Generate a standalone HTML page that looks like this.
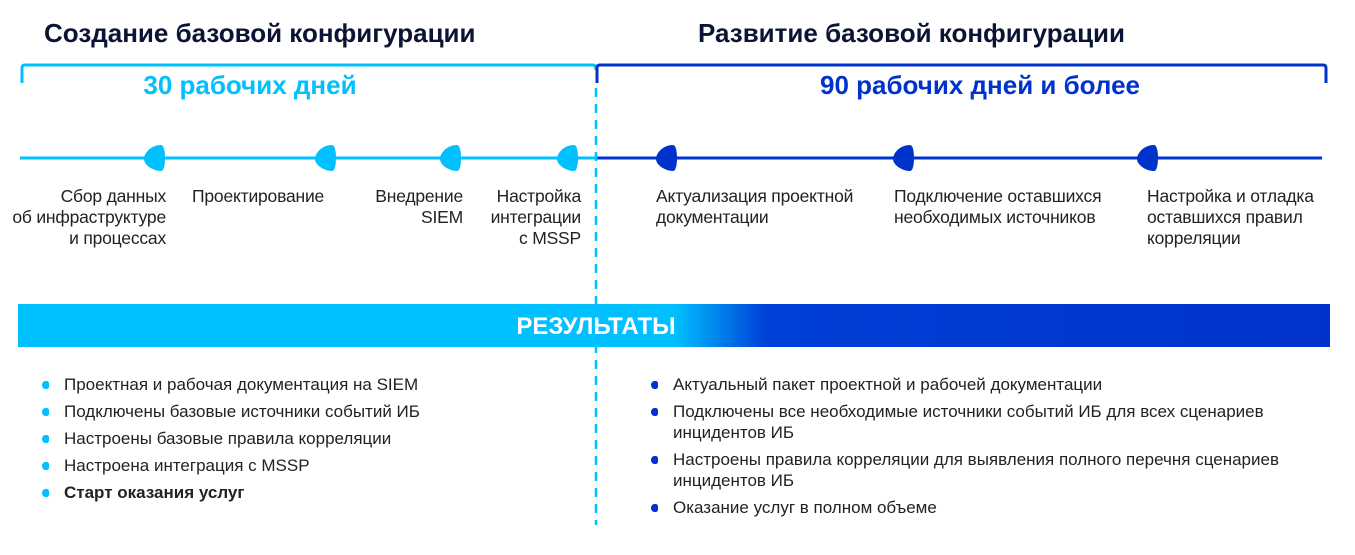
<!DOCTYPE html>
<html><head><meta charset="utf-8"><style>
body{margin:0;width:1355px;height:555px;background:#fff;position:relative;overflow:hidden;font-family:"Liberation Sans",sans-serif;color:#222}
.a{position:absolute;white-space:nowrap}
.h{font-weight:bold;font-size:26px;color:#0b1533;top:18px}
.s{font-weight:bold;font-size:26px;top:70px}
.l{font-size:17.5px;line-height:21px;top:186px;letter-spacing:-0.2px}
.r{text-align:right}
ul{position:absolute;margin:0;padding:0;list-style:none;font-size:17px;line-height:21px}
li{position:relative;padding-left:22px;margin-bottom:6px}
li:before{content:"";position:absolute;left:0;top:7px;width:7px;height:8px;border-radius:50% 30% 30% 50%}
.c li:before{background:#00c0ff}.b li:before{background:#0033cc}
</style></head><body>
<div class="a h" style="left:44px">Создание базовой конфигурации</div>
<div class="a h" style="left:698px">Развитие базовой конфигурации</div>
<svg class="a" style="left:0;top:0" width="1355" height="555">
<defs><linearGradient id="g" x1="18" x2="1330" gradientUnits="userSpaceOnUse">
<stop offset="0.5" stop-color="#00c0ff"/><stop offset="0.57" stop-color="#0040d8"/><stop offset="1" stop-color="#0033cc"/></linearGradient>
<path id="m" d="M4 -13 C-6 -13 -13 -5 -13 1 C-13 7 -4 13 4 13 C7 13 8 6 8 0 C8 -6 7 -13 4 -13Z"/></defs>
<path d="M22 83 V68 Q22 65 25 65 H593 Q596 65 596 70" fill="none" stroke="#00c0ff" stroke-width="3"/>
<path d="M597 83 V68 Q597 65 600 65 H1323 Q1326 65 1326 68 V83" fill="none" stroke="#0033cc" stroke-width="3"/>
<line x1="20" y1="158" x2="596" y2="158" stroke="#00c0ff" stroke-width="3"/>
<line x1="596" y1="158" x2="1322" y2="158" stroke="#0033cc" stroke-width="3"/>
<line x1="596" y1="88" x2="596" y2="525" stroke="#00c0ff" stroke-width="2.5" stroke-dasharray="9,7"/>
<g fill="#00c0ff">
<use href="#m" x="157" y="158"/><use href="#m" x="328" y="158"/><use href="#m" x="453" y="158"/><use href="#m" x="570" y="158"/></g>
<g fill="#0033cc"><use href="#m" x="669" y="158"/><use href="#m" x="906" y="158"/><use href="#m" x="1150" y="158"/></g>
<rect x="18" y="304" width="1312" height="43" fill="url(#g)"/>
<text x="596" y="334" text-anchor="middle" font-family="Liberation Sans" font-weight="bold" font-size="24" fill="#fff">РЕЗУЛЬТАТЫ</text>
</svg>
<div class="a s" style="left:0;width:500px;text-align:center;color:#00c0ff">30 рабочих дней</div>
<div class="a s" style="left:730px;width:500px;text-align:center;color:#0033cc">90 рабочих дней и более</div>
<div class="a l r" style="right:1189px">Сбор данных<br>об инфраструктуре<br>и процессах</div>
<div class="a l" style="left:192px">Проектирование</div>
<div class="a l r" style="right:892px">Внедрение<br>SIEM</div>
<div class="a l r" style="right:774px">Настройка<br>интеграции<br>с MSSP</div>
<div class="a l" style="left:656px">Актуализация проектной<br>документации</div>
<div class="a l" style="left:894px">Подключение оставшихся<br>необходимых источников</div>
<div class="a l" style="left:1147px">Настройка и отладка<br>оставшихся правил<br>корреляции</div>
<ul class="c" style="left:42px;top:374px">
<li>Проектная и рабочая документация на SIEM</li>
<li>Подключены базовые источники событий ИБ</li>
<li>Настроены базовые правила корреляции</li>
<li>Настроена интеграция с MSSP</li>
<li style="font-weight:bold">Старт оказания услуг</li></ul>
<ul class="b" style="left:651px;top:374px">
<li>Актуальный пакет проектной и рабочей документации</li>
<li>Подключены все необходимые источники событий ИБ для всех сценариев<br>инцидентов ИБ</li>
<li>Настроены правила корреляции для выявления полного перечня сценариев<br>инцидентов ИБ</li>
<li>Оказание услуг в полном объеме</li></ul>
</body></html>
